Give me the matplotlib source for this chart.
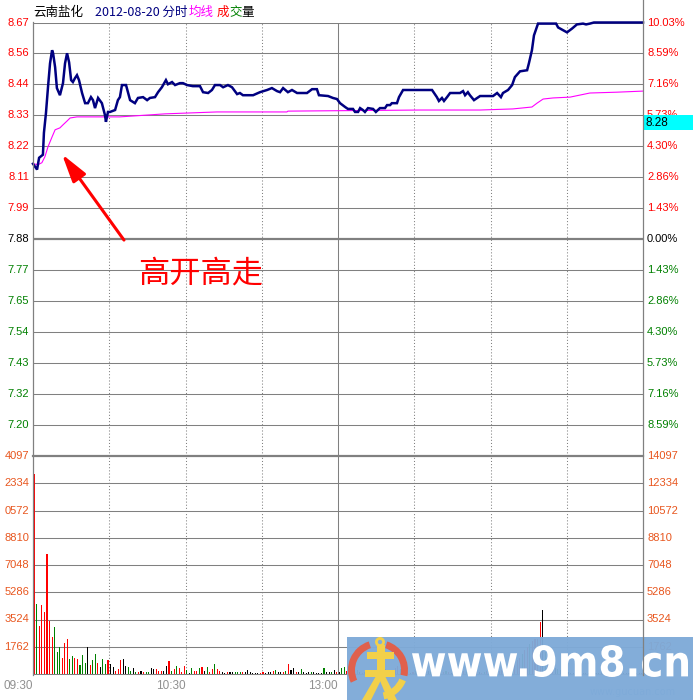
import matplotlib
matplotlib.use('Agg')
import matplotlib.pyplot as plt
from matplotlib.patches import Rectangle, Wedge, Polygon, Circle, PathPatch
from matplotlib.textpath import TextPath
from matplotlib.font_manager import FontProperties
from matplotlib.transforms import Affine2D, blended_transform_factory
from matplotlib.lines import Line2D

# ---------------- data ----------------
price_min = [0, 1.6, 2.4, 3.9, 4.3, 5.1, 5.9, 6.7, 7.5, 7.9, 8.7, 9.4, 10.6, 11.8, 12.6, 13.4,
             14.2, 15.0, 15.7, 16.5, 17.3, 18.1, 19.3, 20.5, 21.6, 22.8, 23.6, 24.4, 25.6, 27.1,
             28.3, 28.7, 29.5, 30.3, 32.3, 33.4, 34.2, 35.0, 36.6, 38.2, 40.1, 41.3, 43.3, 44.9,
             46.0, 48.0, 49.2, 50.7, 52.3, 53.1, 54.7, 55.9, 57.8, 59.0, 60.6, 62.9, 65.7, 66.9,
             68.9, 70.4, 71.6, 73.6, 74.8, 76.7, 78.3, 80.3, 81.4, 82.6, 86.6, 89.3, 92.1, 94.0,
             96.0, 97.2, 98.4, 100.3, 101.9, 103.9, 107.8, 109.8, 111.7, 112.5, 116.1, 118.0,
             119.6, 120.8, 122.8, 123.9, 125.9, 126.7, 127.9, 128.7, 129.8, 130.6, 131.8, 133.8,
             134.9, 136.5, 138.5, 139.3, 140.5, 141.2, 143.2, 144.0, 145.6, 149.5, 157.0, 158.9,
             159.7, 160.9, 161.7, 162.9, 164.1, 168.0, 169.2, 170.0, 171.1, 171.9, 173.5, 175.9,
             181.0, 182.6, 184.1, 184.9, 186.9, 188.5, 189.6, 191.6, 194.4, 195.1, 196.3, 197.1,
             198.7, 205.8, 206.6, 210.1, 212.1, 214.0, 216.4, 217.6, 219.1, 220.7, 240]
price_val = [8.155, 8.134, 8.177, 8.188, 8.268, 8.340, 8.434, 8.521, 8.569, 8.558, 8.507, 8.431,
             8.405, 8.449, 8.521, 8.558, 8.525, 8.460, 8.453, 8.467, 8.478, 8.460, 8.413, 8.376,
             8.376, 8.398, 8.387, 8.358, 8.395, 8.376, 8.333, 8.308, 8.344, 8.344, 8.351, 8.387,
             8.398, 8.442, 8.442, 8.387, 8.376, 8.395, 8.398, 8.387, 8.395, 8.398, 8.416, 8.434,
             8.460, 8.445, 8.453, 8.442, 8.449, 8.449, 8.442, 8.438, 8.438, 8.416, 8.413, 8.424,
             8.442, 8.442, 8.434, 8.442, 8.434, 8.409, 8.413, 8.405, 8.405, 8.416, 8.424, 8.431,
             8.420, 8.416, 8.431, 8.416, 8.424, 8.413, 8.413, 8.427, 8.427, 8.405, 8.402, 8.395,
             8.391, 8.376, 8.362, 8.355, 8.355, 8.344, 8.344, 8.358, 8.351, 8.344, 8.358, 8.355,
             8.344, 8.358, 8.358, 8.369, 8.369, 8.376, 8.376, 8.398, 8.424, 8.424, 8.424, 8.398,
             8.384, 8.395, 8.384, 8.398, 8.413, 8.413, 8.420, 8.405, 8.416, 8.405, 8.387, 8.402,
             8.402, 8.413, 8.398, 8.413, 8.424, 8.442, 8.471, 8.492, 8.496, 8.521, 8.569, 8.623,
             8.666, 8.666, 8.652, 8.634, 8.648, 8.663, 8.666, 8.663, 8.666, 8.670, 8.670]

avg_min = [0, 2.0, 3.5, 4.7, 5.9, 7.5, 8.7, 10.6, 11.8, 13.4, 14.6, 17.3, 34.2, 39.0, 51.9,
           72.4, 99.9, 100.3, 152.3, 175.9, 188.8, 196.3, 198.3, 200.7, 204.6, 211.3, 219.1,
           229.7, 240]
avg_val = [8.155, 8.152, 8.159, 8.181, 8.217, 8.253, 8.279, 8.286, 8.297, 8.311, 8.322, 8.326,
           8.326, 8.329, 8.337, 8.344, 8.344, 8.347, 8.351, 8.351, 8.355, 8.362, 8.376, 8.391,
           8.395, 8.398, 8.413, 8.416, 8.420]

volume = [12934, 4527, 3104, 4462, 4010, 7760, 3427, 2393, 3040, 1423,
          1746, 1035, 2005, 2263, 970, 1164, 1035, 970, 582, 1229,
          711, 1746, 582, 905, 1293, 711, 453, 970, 647, 905,
          647, 453, 194, 323, 905, 970, 517, 453, 194, 388,
          129, 129, 194, 129, 129, 129, 388, 323, 323, 194,
          194, 194, 539, 862, 194, 323, 517, 366, 129, 517,
          259, 65, 366, 194, 194, 366, 431, 194, 431, 129,
          323, 647, 302, 194, 129, 65, 129, 129, 129, 129,
          129, 129, 129, 129, 259, 129, 65, 65, 65, 65,
          129, 65, 129, 129, 194, 259, 129, 129, 129, 194,
          647, 259, 366, 129, 129, 302, 129, 65, 129, 129,
          129, 65, 65, 65, 366, 129, 129, 129, 259, 129,
          129, 366, 431, 194, 129, 65, 129, 259, 129, 65,
          129, 194, 129, 129, 65, 129, 194, 259, 323, 194,
          129, 259, 388, 517, 323, 194, 129, 129, 65, 129,
          194, 129, 65, 129, 259, 194, 129, 65, 194, 323,
          259, 129, 194, 129, 65, 129, 194, 129, 259, 194,
          129, 65, 129, 194, 129, 129, 65, 129, 194, 259,
          194, 129, 129, 194, 259, 323, 388, 517, 647, 776,
          905, 1035, 1293, 1552, 1746, 1940, 2134, 2263, 2263, 3363,
          4139, 1423, 905, 647, 517, 388, 323, 259, 194, 129,
          129, 65, 65, 65, 65, 65, 65, 65, 65, 65,
          65, 65, 65, 65, 65, 65, 65, 65, 65, 65,
          65, 65, 65, 65, 65, 65, 65, 65, 65, 65]
vol_dir = ("rgrrrrrrgg" "grrrggrrgg" "gkrggrkggr" "kkrrrkkggk" "grkrggkkrr"
           "rkkrgrgrrr" "gkgrrgrkgr" "rgrrkkrkkg" "ggrkkkkkkr" "rkkkrgkkrg"
           "rkkrkgkkkg" "kkkkgkkgkr" "kggrgkrgkr" "grkgrrgkrg" "rgrrgkrgkr"
           "gkrgrkgrrg" "krgrkgrkgr" "gkrgrkrgrk" "grkrrgrrgr" "rrgrrgrrrr"
           "kgrkrkgkkr" "kkkkkkkkkk" "kkkkkkkkkk" "kkkkkkkkkk")

prev_close = 7.88
price_top = 8.67
left_price_labels = ['8.67', '8.56', '8.44', '8.33', '8.22', '8.11', '7.99', '7.88',
                     '7.77', '7.65', '7.54', '7.43', '7.32', '7.20']
right_pct_labels = ['10.03%', '8.59%', '7.16%', '5.73%', '4.30%', '2.86%', '1.43%', '0.00%',
                    '1.43%', '2.86%', '4.30%', '5.73%', '7.16%', '8.59%']
vol_max = 14097
left_vol_labels = ['1762', '3524', '5286', '7048', '8810', '0572', '2334', '4097']
right_vol_labels = ['1762', '3524', '5286', '7048', '8810', '10572', '12334', '14097']
time_labels = ['09:30', '10:30', '13:00']
time_pos = [0, 60, 120]
cursor_label = '8.28'
title_parts = [('云南盐化', 'black'), ('2012-08-20 分时', '#000080'), ('均线', '#ff00ff'),
               ('成', '#ff0000'), ('交', '#008000'), ('量', 'black')]
annotation = '高开高走'

# ---------------- figure ----------------
W, H = 693, 700
fig = plt.figure(figsize=(W / 100, H / 100), dpi=100)
fig.patch.set_facecolor('white')

def fx(x):
    return x / W

def fy(y):
    return 1 - y / H

L, R = 33, 643
T_P, B_P, B_V = 22.5, 456, 674
ax = fig.add_axes([fx(L), fy(B_P), (R - L) / W, (B_P - T_P) / H])
axv = fig.add_axes([fx(L), fy(B_V), (R - L) / W, (B_V - B_P) / H])
for a in (ax, axv):
    a.set_xlim(0, 240)
    a.axis('off')
    a.patch.set_alpha(0)

step = (price_top - prev_close) / 7
ax.set_ylim(prev_close - 7 * step, price_top)
axv.set_ylim(0, vol_max)

GRID = '#808080'
TICKF = ['Liberation Sans', 'DejaVu Sans']
CJK = ['Noto Sans CJK SC', 'DejaVu Sans']

# vertical grid
for a in (ax, axv):
    for t in [30, 60, 90, 150, 180, 210]:
        a.axvline(t, color=GRID, lw=0.75, ls=(0, (1, 2)), zorder=1)
    a.axvline(120, color=GRID, lw=0.75, zorder=1)

# horizontal price grid + labels
bt = blended_transform_factory(ax.transAxes, ax.transData)
for i, k in enumerate(range(7, -7, -1)):
    lvl = prev_close + k * step
    lw = 1.6 if k == 0 else 0.75
    ax.axhline(lvl, color=GRID, lw=lw, zorder=1)
    col = '#ff0000' if k > 0 else ('black' if k == 0 else '#008000')
    ax.text(-4 / 610, lvl, left_price_labels[i], transform=bt, ha='right', va='center',
            color=col, fontsize=8, family=TICKF, clip_on=False)
    ax.text(1 + 4 / 610, lvl, right_pct_labels[i], transform=bt, ha='left', va='center',
            color=col, fontsize=8, family=TICKF, clip_on=False)

# volume grid + labels
btv = blended_transform_factory(axv.transAxes, axv.transData)
VCOL = '#e8561e'
for k in range(1, 9):
    lvl = vol_max * k / 8
    lw = 1.6 if k == 8 else 0.75
    axv.axhline(lvl, color=GRID, lw=lw, zorder=1, clip_on=False)
    axv.text(-4 / 610, lvl, left_vol_labels[k - 1], transform=btv, ha='right', va='center',
             color=VCOL, fontsize=8, family=TICKF, clip_on=False)
    axv.text(1 + 4 / 610, lvl, right_vol_labels[k - 1], transform=btv, ha='left', va='center',
             color=VCOL, fontsize=8, family=TICKF, clip_on=False)
axv.axhline(0, color=GRID, lw=0.75, zorder=1, clip_on=False)

# time labels
btx = blended_transform_factory(axv.transData, axv.transAxes)
for t, lab in zip(time_pos, time_labels):
    axv.text(t, -12 / 218, lab, transform=btx, ha='right', va='center', color='#909090',
             fontsize=8.5, family=TICKF, clip_on=False)

# price lines
ax.plot(avg_min, avg_val, color='#ff00ff', lw=0.8, zorder=3, clip_on=False)
ax.plot(price_min, price_val, color='#000080', lw=1.8, zorder=4, clip_on=False,
        solid_joinstyle='miter')

# volume bars
cmap = {'r': '#ff0000', 'g': '#008000', 'k': '#000000'}
xs = [i + 0.5 for i in range(len(volume))]
axv.bar(xs, volume, width=0.42, color=[cmap[c] for c in vol_dir], linewidth=0,
        antialiased=False, zorder=3)

# arrow annotation
ax.annotate('', xy=(11.4, 8.19), xytext=(35.8, 7.877),
            arrowprops=dict(arrowstyle='-|>,head_length=1.0,head_width=0.28',
                            mutation_scale=17, color='#ff0000', lw=2.2,
                            shrinkA=0, shrinkB=0), zorder=6)

# ---------------- overlay in pixel coords ----------------
axo = fig.add_axes([0, 0, 1, 1], zorder=10)
axo.set_xlim(0, W)
axo.set_ylim(H, 0)
axo.axis('off')
axo.patch.set_alpha(0)

axo.add_line(Line2D([L, L], [22, 675], color=GRID, lw=0.9))
axo.add_line(Line2D([R, R], [0, 675], color=GRID, lw=0.9))

# title
xs_title = [33, 95, 189, 217, 229, 241]
for (txt, c), x in zip(title_parts, xs_title):
    axo.text(x, 12.5, txt, color=c, fontsize=9, family=CJK, ha='left', va='center')

axo.text(201, 274, annotation, color='#ff0000', fontsize=22.5, family=CJK,
         ha='center', va='center')

# cursor box
axo.add_patch(Rectangle((643.5, 115), 50, 15, facecolor='#00ffff', edgecolor='none'))
axo.text(645, 122.5, cursor_label, color='black', fontsize=8.5, family=TICKF,
         ha='left', va='center')

# watermark
axo.add_patch(Rectangle((347, 636.5), 346, 64, facecolor='#7eaad8', edgecolor='none', alpha=0.96))
cx, cy, r = 378, 670, 30

def vis_wedge(a1, a2, color, width):
    return Wedge((cx, cy), r, -a2, -a1, width=width, facecolor=color, edgecolor='none')

axo.add_patch(vis_wedge(108, 205, '#e0604c', 7))
axo.add_patch(vis_wedge(-12, 72, '#e0604c', 7))
axo.add_patch(vis_wedge(282, 338, '#f2d04a', 7))
YEL = '#f2d04a'
axo.add_patch(Circle((380, 642), 3.6, facecolor='none', edgecolor=YEL, lw=2))
axo.add_patch(Rectangle((376.5, 645), 8.5, 33, facecolor=YEL, edgecolor='none'))
axo.add_patch(Rectangle((366.5, 651.5), 27, 7, facecolor=YEL, edgecolor='none'))
axo.add_patch(Rectangle((365, 669.5), 30, 7, facecolor=YEL, edgecolor='none'))
axo.add_patch(Polygon([(376, 676), (383, 676), (371, 700), (362, 700)], facecolor=YEL, edgecolor='none'))
axo.add_patch(Polygon([(378, 676), (385, 676), (397, 700), (388, 700)], facecolor=YEL, edgecolor='none'))

fp = FontProperties(family='DejaVu Sans', weight='bold')
tp = TextPath((0, 0), 'www.9m8.cn', size=100, prop=fp)
bb = tp.get_extents()
tr = (Affine2D().translate(-bb.x0, -bb.y0)
      .scale(276 / bb.width, -32 / bb.height)
      .translate(412, 677))
axo.add_patch(PathPatch(tr.transform_path(tp), facecolor='white', edgecolor='none'))
axo.text(590, 692, 'www.gucuan.com', color='#93b9e2', fontsize=7, family=['DejaVu Sans'],
         ha='left', va='center', zorder=0.5)

fig.savefig('out.png', dpi=100)
